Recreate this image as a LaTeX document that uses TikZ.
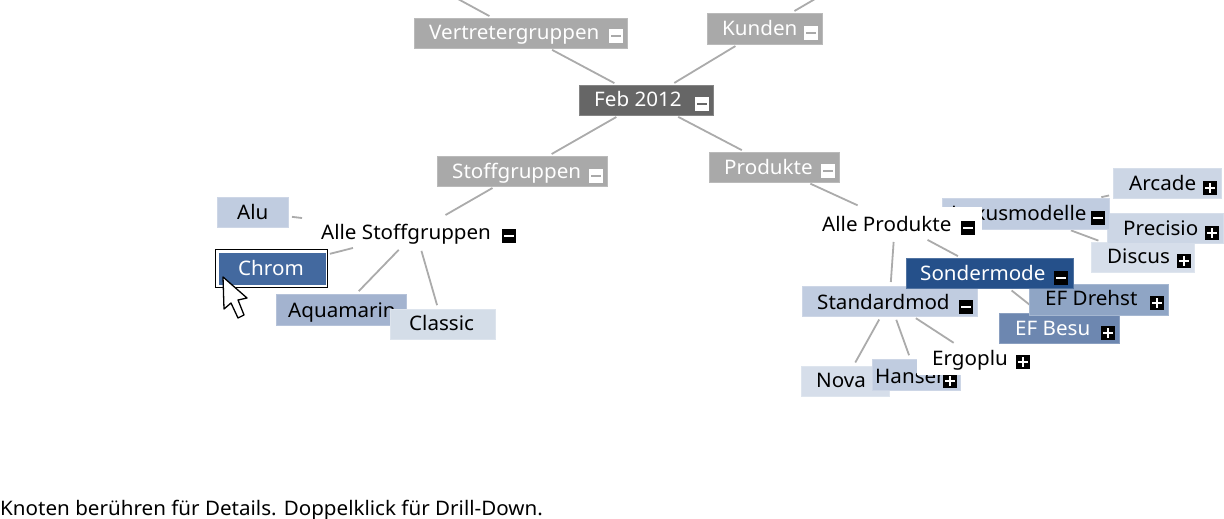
\documentclass[tikz,border=0pt]{standalone}
\usepackage{fontspec}
\setmainfont[FakeStretch=1.03]{Noto Sans}
\usetikzlibrary{backgrounds}
\definecolor{cGrey}{HTML}{A9A9A9}
\definecolor{cFeb}{HTML}{666666}
\definecolor{cSonder}{HTML}{25508A}
\definecolor{cStd}{HTML}{C0CCE0}
\definecolor{cArc}{HTML}{CCD6E5}
\definecolor{cDis}{HTML}{D6DEEA}
\definecolor{cDreh}{HTML}{8FA5C5}
\definecolor{cBesu}{HTML}{6D87B0}
\definecolor{cChrom}{HTML}{43699F}
\definecolor{cAqua}{HTML}{A3B3CF}
\definecolor{cClas}{HTML}{D4DDE8}
\definecolor{cLine}{HTML}{ABABAB}
\tikzset{
  conn/.style={draw=cLine,line width=1.8pt,shorten <=4pt,shorten >=4pt},
  lbl/.style={anchor=base west,inner sep=0pt,font=\fontsize{20}{20}\selectfont},
  boxnode/.style={rectangle,inner sep=0pt,outer sep=0pt},
}
\newcommand{\bx}[6]{\node[boxnode,fill=#6,draw=#6!80!white,line width=0.8pt,minimum width={(#4-#2)*1pt},minimum height={(#5-#3)*1pt}] (#1) at ({(#2+#4)/2},{(#3+#5)/2}) {};}
\newcommand{\wbx}[5]{\node[boxnode,fill=white,minimum width={(#4-#2)*1pt},minimum height={(#5-#3)*1pt}] (#1) at ({(#2+#4)/2},{(#3+#5)/2}) {};}
\newcommand{\tx}[5]{\node[lbl,text=#2] (#1) at (#3,{#4+7.5}) {#5};}
% icon: bg colour, sign colour, x, y
\newcommand{\icm}[4]{\fill[#1] ({#3-7},{#4-7}) rectangle ({#3+7},{#4+7});\fill[#2] ({#3-5},{#4-1}) rectangle ({#3+5},{#4+1.2});}
\newcommand{\icp}[4]{\icm{#1}{#2}{#3}{#4}\fill[#2] ({#3-1},{#4-5}) rectangle ({#3+1.2},{#4+5});}
\begin{document}
\begin{tikzpicture}[x=1pt,y=-1pt]
\useasboundingbox (0,0) rectangle (1224,519);
\coordinate (topL) at (458,-1);
\coordinate (topR) at (815,-1);
% left
\bx{vert}{414}{18}{627}{48}{cGrey}\tx{vertT}{white}{429}{32}{Vertretergruppen}\icm{white}{cGrey}{616}{36}
\bx{kund}{707}{13}{822}{44}{cGrey}\tx{kundT}{white}{722}{28}{Kunden}\icm{white}{cGrey}{811}{33}
\bx{feb}{579}{85}{713}{115}{cFeb}\tx{febT}{white}{594}{99}{Feb 2012}\icm{white}{cFeb}{702}{104}
\bx{stoff}{437}{156}{607}{186}{cGrey}\tx{stoffT}{white}{452}{171}{Stoffgruppen}\icm{white}{cGrey}{596}{176}
\bx{prod}{709}{152}{839}{182}{cGrey}\tx{prodT}{white}{724}{167}{Produkte}\icm{white}{cGrey}{828}{171}
\wbx{alles}{306}{217}{526}{247}\tx{allesT}{black}{321}{232}{Alle Stoffgruppen}\icm{black}{white}{509}{236}
\bx{alu}{217}{197}{288}{227}{cStd}\tx{aluT}{black}{237}{212}{Alu}
\node[boxnode,fill=cChrom,draw=white,line width=1pt,minimum width=108pt,minimum height=33pt] (chrom) at (272,268.5) {};
\draw[black,line width=1.5pt] (215.5,249.5) rectangle (327.5,287.5);
\tx{chromT}{white}{238}{268}{Chrom}
\bx{aqua}{276}{294}{406}{325}{cAqua}\tx{aquaT}{black}{288}{310}{Aquamarin}
\bx{clas}{390}{309}{495}{339}{cClas}\tx{clasT}{black}{409}{323}{Classic}
% right
\bx{dis}{1091}{242}{1194}{272}{cDis}\tx{disT}{black}{1107}{256}{Discus}\icp{black}{white}{1184}{261}
\bx{prec}{1107}{213}{1223}{243}{cArc}\tx{precT}{black}{1123}{228}{Precisio}\icp{black}{white}{1212}{233}
\bx{lux}{942}{198}{1109}{229}{cStd}\tx{luxT}{black}{951}{213}{Luxusmodelle}\icm{black}{white}{1098}{218}
\bx{arc}{1113}{168}{1221}{198}{cArc}\tx{arcT}{black}{1129}{183}{Arcade}\icp{black}{white}{1210}{188}
\wbx{allep}{808}{207}{982}{238}\tx{allepT}{black}{822}{224}{Alle Produkte}\icm{black}{white}{968}{228}
\bx{besu}{999}{313}{1119}{343}{cBesu}\tx{besuT}{white}{1015}{328}{EF Besu}\icp{black}{white}{1108}{333}
\bx{dreh}{1029}{284}{1168}{315}{cDreh}\tx{drehT}{black}{1045}{298}{EF Drehst}\icp{black}{white}{1157}{303}
\bx{std}{802}{286}{977}{316}{cStd}\tx{stdT}{black}{817}{302}{Standardmod}\icm{black}{white}{966}{307}
\bx{sond}{906}{258}{1073}{288}{cSonder}\tx{sondT}{white}{920}{273}{Sondermode}\icm{black}{white}{1061}{278}
\bx{nova}{801}{366}{889}{396}{cDis}\tx{novaT}{black}{816}{380}{Nova}
\bx{han}{872}{359}{960}{390}{cStd}\tx{hanT}{black}{875}{376}{Hanser}\icp{black}{white}{950}{381}
\wbx{erg}{917}{345}{1043}{375}\tx{ergT}{black}{932}{358}{Ergoplu}\icp{black}{white}{1023}{362}
% cursor
\draw[black,fill=white,line width=1.3pt,line join=round] (223,277) -- (224,309) -- (231,303) -- (238,318) -- (244,315) -- (238,300) -- (247,298) -- cycle;
\begin{scope}[on background layer]
\draw[conn] (feb) -- (vert);
\draw[conn] (feb) -- (kund);
\draw[conn] (feb) -- (stoff);
\draw[conn] (feb) -- (prod);
\draw[conn,shorten >=0pt] (vert) -- (topL);
\draw[conn,shorten >=0pt] (kund) -- (topR);
\draw[conn] (stoff) -- (alles);
\draw[conn] (alles) -- (alu);
\draw[conn] (alles) -- (chrom);
\draw[conn] (alles) -- (aqua);
\draw[conn] (alles) -- (clas);
\draw[conn] (prod) -- (allep);
\draw[conn] (allep) -- (lux);
\draw[conn] (allep) -- (sond);
\draw[conn] (allep) -- (std);
\draw[conn] (lux) -- (arc);
\draw[conn] (lux) -- (prec);
\draw[conn] (lux) -- (dis);
\draw[conn] (sond) -- (dreh);
\draw[conn] (sond) -- (besu);
\draw[conn] (std) -- (nova);
\draw[conn] (std) -- (han);
\draw[conn] (std) -- (erg);
\end{scope}
\node[lbl] (hint) at (0,515) {Knoten berühren für Details. Doppelklick für Drill-Down.};
\end{tikzpicture}
\end{document}
